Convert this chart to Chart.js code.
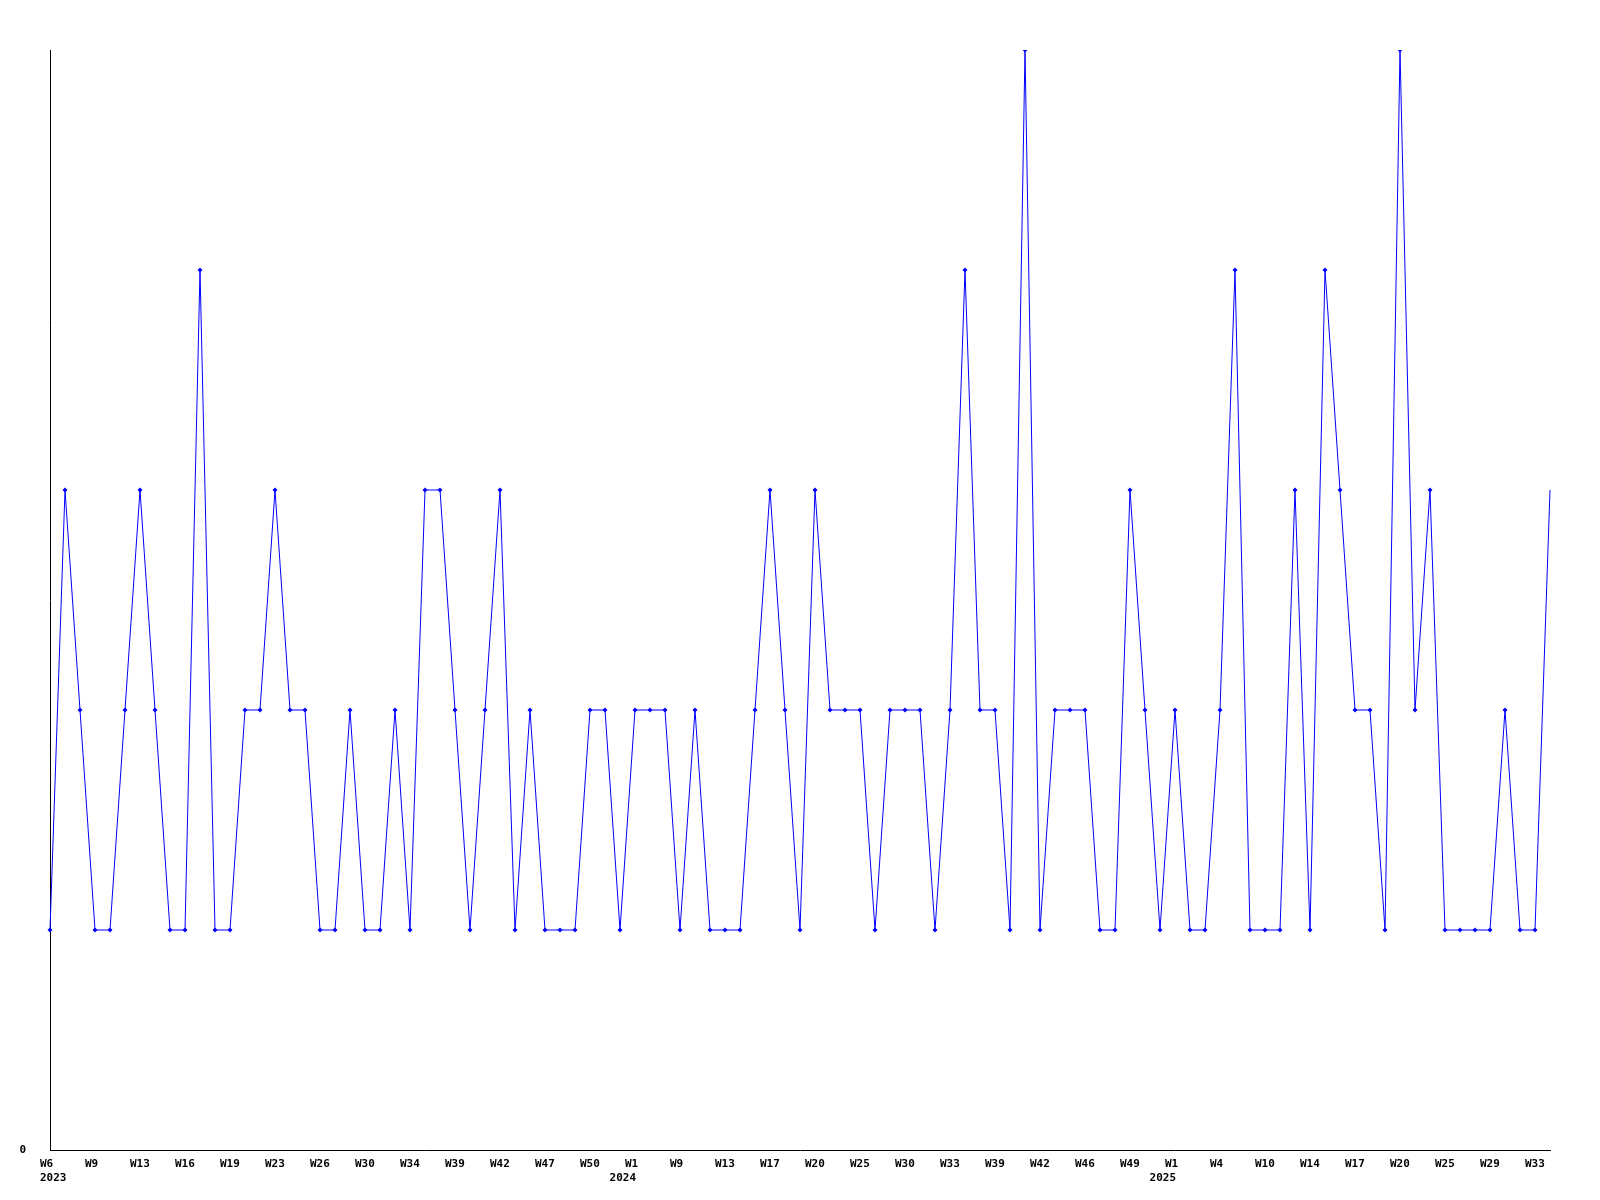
<!DOCTYPE html>
<html>
<head>
<meta charset="utf-8">
<script src="https://cdn.jsdelivr.net/npm/chart.js@4/dist/chart.umd.min.js"></script>
<style>
  html, body { margin: 0; padding: 0; background: #fff; }
  canvas { display: block; }
</style>
</head>
<body>
<canvas id="chart" width="1600" height="1200"></canvas>
<script>
// week labels per year (only every 3rd is shown on the axis)
const weeks2023 = ['W6','W7','W8','W9','W10','W12','W13','W14','W15','W16','W17','W18','W19','W20','W22','W23','W24','W25','W26','W28','W29','W30','W31','W33','W34','W36','W37','W39','W40','W41','W42','W44','W45','W47','W48','W49','W50','W51','W52'];
const weeks2024 = ['W1','W3','W6','W9','W10','W12','W13','W15','W16','W17','W18','W19','W20','W22','W23','W25','W27','W28','W30','W31','W32','W33','W35','W37','W39','W40','W41','W42','W43','W45','W46','W47','W48','W49','W51','W52'];
const weeks2025 = ['W1','W2','W3','W4','W6','W8','W10','W12','W13','W14','W15','W16','W17','W18','W19','W20','W22','W23','W25','W27','W28','W29','W31','W32','W33','W34'];
const years = ['2023', '2024', '2025'];

const counts = [
  1, 3, 2, 1, 1, 2, 3, 2, 1, 1,
  4, 1, 1, 2, 2, 3, 2, 2, 1, 1,
  2, 1, 1, 2, 1, 3, 3, 2, 1, 2,
  3, 1, 2, 1, 1, 1, 2, 2, 1, 2,
  2, 2, 1, 2, 1, 1, 1, 2, 3, 2,
  1, 3, 2, 2, 2, 1, 2, 2, 2, 1,
  2, 4, 2, 2, 1, 5, 1, 2, 2, 2,
  1, 1, 3, 2, 1, 2, 1, 1, 2, 4,
  1, 1, 1, 3, 1, 4, 3, 2, 2, 1,
  5, 2, 3, 1, 1, 1, 1, 2, 1, 1,
  3
];

const labels = weeks2023.concat(weeks2024, weeks2025);
// index where each year starts
const yearStarts = [0, weeks2023.length, weeks2023.length + weeks2024.length];

const FONT = "bold 11px 'DejaVu Sans Mono', monospace";
const tickFont = { family: "'DejaVu Sans Mono', monospace", size: 11, weight: 'bold', lineHeight: 1.36 };

// year line under the week labels
const yearLabels = {
  id: 'yearLabels',
  afterDraw(chart) {
    const xs = chart.scales.x;
    const ctx = chart.ctx;
    ctx.save();
    ctx.font = FONT;
    ctx.fillStyle = '#000';
    ctx.textBaseline = 'middle';
    yearStarts.forEach((idx, k) => {
      const px = xs.getPixelForValue(idx);
      if (k === 0) {
        ctx.textAlign = 'left';
        ctx.fillText(years[k], px - 10, xs.top + 28);
      } else {
        ctx.textAlign = 'right';
        ctx.fillText(years[k], px + 1, xs.top + 28);
      }
    });
    ctx.restore();
  }
};

new Chart(document.getElementById('chart'), {
  type: 'line',
  data: {
    labels: labels,
    datasets: [{
      data: counts,
      borderColor: '#0000ff',
      backgroundColor: '#0000ff',
      borderWidth: 1,
      pointStyle: 'rectRot',
      pointRadius: ctx => ctx.dataIndex === counts.length - 1 ? 0 : 2.5,
      pointBorderWidth: 0,
      tension: 0,
      fill: false
    }]
  },
  options: {
    responsive: false,
    animation: false,
    layout: { padding: { top: 50, right: 50, left: 0, bottom: 0 } },
    plugins: { legend: { display: false }, tooltip: { enabled: false } },
    scales: {
      x: {
        offset: false,
        grid: { display: false, drawTicks: false },
        border: { display: true, color: '#000', width: 1 },
        afterFit: s => { s.height = 50; },
        ticks: {
          autoSkip: false,
          maxRotation: 0,
          minRotation: 0,
          align: 'start',
          labelOffset: -10,
          padding: 7,
          color: '#000',
          font: tickFont,
          callback: function (value, i) {
            return i % 3 === 0 ? this.getLabelForValue(value) : '';
          }
        }
      },
      y: {
        min: 0,
        max: 5,
        grid: { display: false, drawTicks: false },
        border: { display: true, color: '#000', width: 1 },
        afterFit: s => { s.width = 50; },
        ticks: {
          stepSize: 5,
          padding: 24,
          color: '#000',
          font: tickFont,
          callback: v => v === 0 ? '0' : ''
        }
      }
    }
  },
  plugins: [yearLabels]
});
</script>
</body>
</html>
